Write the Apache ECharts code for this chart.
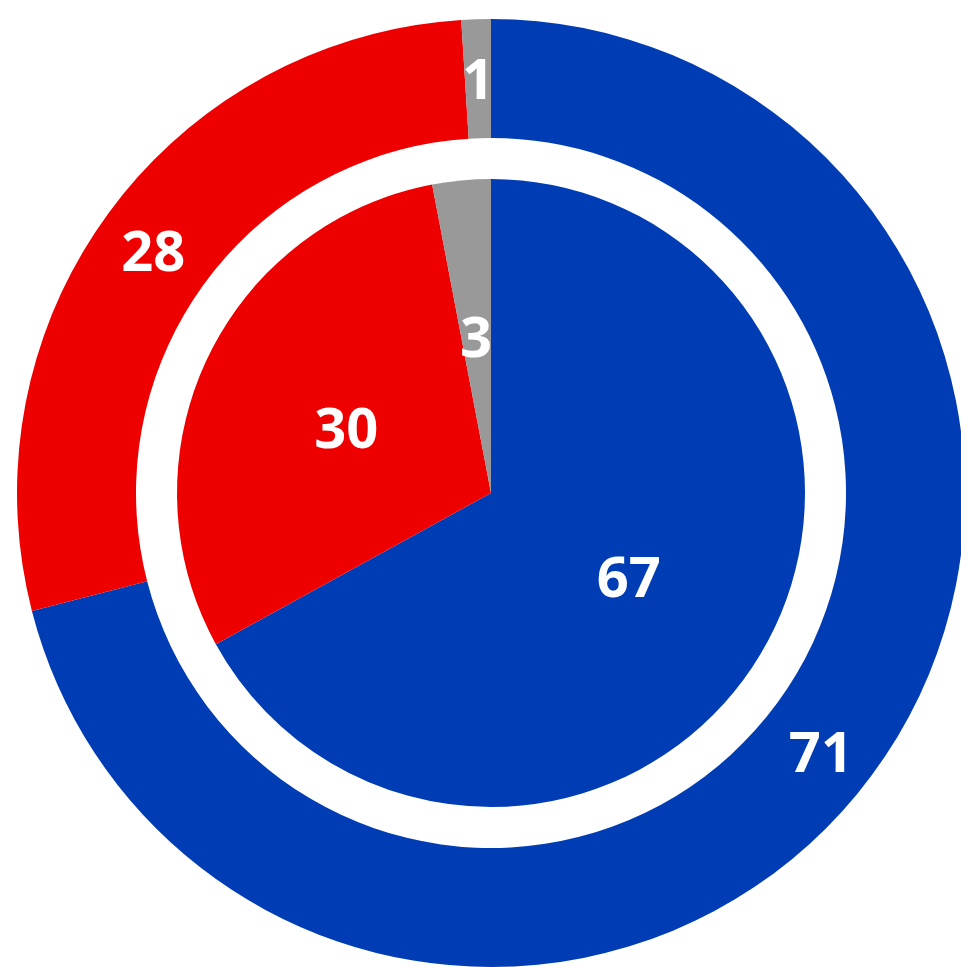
<!DOCTYPE html>
<html>
<head>
<meta charset="utf-8">
<style>html,body{margin:0;padding:0;background:#fff;}#c{width:961px;height:967px;}</style>
<script src="https://cdn.jsdelivr.net/npm/echarts@6/dist/echarts.min.js"></script>
</head>
<body>
<div id="c"></div>
<script>
const categories = ['Blue', 'Red', 'Other'];
const innerValues = [67, 30, 3];
const outerValues = [71, 28, 1];
const colors = ['#003DB5', '#EE0000', '#999999'];

const chart = echarts.init(document.getElementById('c'));
const label = {
  show: true, position: 'inside', color: '#fff',
  fontFamily: 'Open Sans', fontWeight: 'bold', fontSize: 56,
  formatter: '{v|{c}}',
  rich: { v: { color: '#fff', fontFamily: 'Open Sans', fontWeight: 'bold', fontSize: 56, padding: [14, 0, 0, 0] } }
};
function mk(vals) {
  return categories.map((n, i) => ({ name: n, value: vals[i], itemStyle: { color: colors[i] } }));
}
chart.setOption({
  animation: false,
  series: [
    { type: 'pie', center: [491, 493], radius: [0, 314], startAngle: 90, clockwise: true,
      label: label, labelLine: { show: false }, emphasis: { disabled: true },
      data: mk(innerValues) },
    { type: 'pie', center: [491, 493], radius: [355, 474], startAngle: 90, clockwise: true,
      label: label, labelLine: { show: false }, emphasis: { disabled: true },
      data: mk(outerValues) }
  ]
});
</script>
</body>
</html>
